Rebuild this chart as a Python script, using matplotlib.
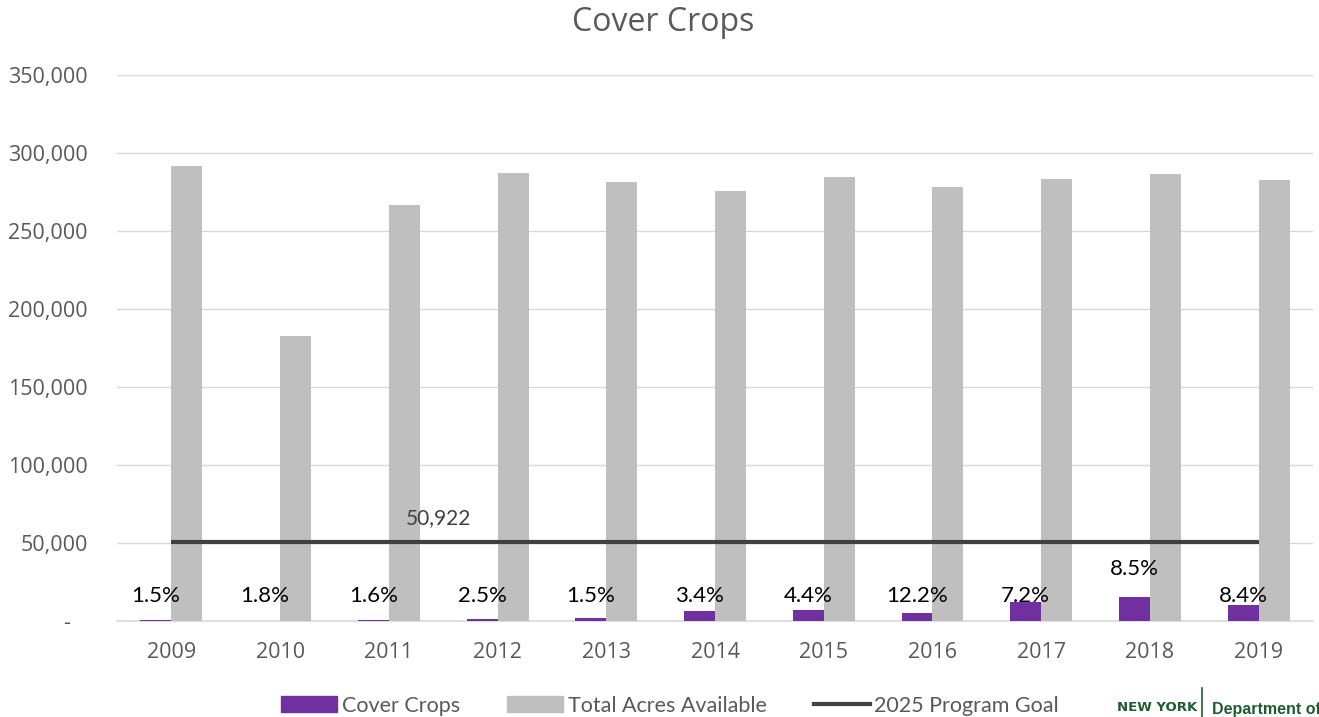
import matplotlib
matplotlib.use("Agg")
import matplotlib.pyplot as plt
import numpy as np
from matplotlib.ticker import FuncFormatter
from matplotlib.lines import Line2D
from matplotlib.patches import Patch

years = ["2009", "2010", "2011", "2012", "2013", "2014", "2015", "2016", "2017", "2018", "2019"]
cover_crops = [700, 200, 400, 1300, 1900, 6400, 7200, 5300, 12000, 15600, 10500]
total_acres = [291700, 182700, 266700, 287200, 281400, 275600, 284600, 278200, 283300, 286500, 282700]
pct_labels = ["1.5%", "1.8%", "1.6%", "2.5%", "1.5%", "3.4%", "4.4%", "12.2%", "7.2%", "8.5%", "8.4%"]
goal = 50922
goal_label = "50,922"

PURPLE = "#7030A0"
GRAY = "#BFBFBF"
LINE = "#404040"
TXT = "#595959"

fig = plt.figure(figsize=(13.19, 7.17), dpi=100)
ax = fig.add_axes([0.0887, 0.1339, 0.9068, 0.7615])

x = np.arange(len(years))
w = 0.285
ax.bar(x - w / 2, cover_crops, width=w, color=PURPLE, zorder=3)
ax.bar(x + w / 2, total_acres, width=w, color=GRAY, zorder=3)
ax.plot(x, [goal] * len(x), color=LINE, lw=3, zorder=4, solid_capstyle="butt")

ax.text(2.46, goal + 15000, goal_label, ha="center", va="center", fontsize=15,
        color="#404040", family="Lato")

for i, (lab, v) in enumerate(zip(pct_labels, cover_crops)):
    ylab = 16000 if v < 14000 else v + 18000
    ax.text(i - w / 2, ylab, lab, ha="center", va="center", fontsize=16,
            color="black", family="Lato", zorder=5)

ax.set_xlim(-0.5, len(years) - 0.5)
ax.set_ylim(0, 350000)
ax.set_yticks(np.arange(0, 350001, 50000))
ax.yaxis.set_major_formatter(FuncFormatter(lambda v, p: "-   " if v == 0 else f"{int(v):,}"))
ax.set_xticks(x)
ax.set_xticklabels(years)
ax.tick_params(axis="y", length=0, pad=21, labelsize=15.5, labelcolor=TXT)
ax.tick_params(axis="x", length=0, pad=15, labelsize=15.5, labelcolor=TXT)
for lab in ax.get_xticklabels() + ax.get_yticklabels():
    lab.set_family("Open Sans")
ax.grid(axis="y", color="#D9D9D9", lw=1, zorder=0)
ax.set_axisbelow(True)
for s in ["top", "right", "left"]:
    ax.spines[s].set_visible(False)
ax.spines["bottom"].set_color("#D9D9D9")
ax.spines["bottom"].set_linewidth(1.2)

fig.text(0.503, 0.969, "Cover Crops", ha="center", va="center", fontsize=23,
         color=TXT, family="Open Sans")

handles = [Patch(color=PURPLE), Patch(color=GRAY), Line2D([0], [0], color=LINE, lw=3)]
leg = fig.legend(handles, ["Cover Crops", "Total Acres Available", "2025 Program Goal"],
                 loc="center", bbox_to_anchor=(0.508, 0.016), ncol=3, frameon=False,
                 prop={"family": "Lato", "size": 15.5}, handlelength=2.6, handleheight=0.8,
                 handletextpad=0.2, columnspacing=2.2)
for t in leg.get_texts():
    t.set_color(TXT)

# logo text (cut off at right edge, as in the original)
fig.text(0.847, 0.013, "NEW YORK", ha="left", va="center", fontsize=9.5, fontweight="bold",
         color="#1F5C2E", family="Liberation Sans Narrow")
fig.add_artist(Line2D([0.9113, 0.9113], [0.0, 0.04], color="#1F5C2E", lw=1.2))
fig.text(0.919, 0.011, "Department of", ha="left", va="center", fontsize=11.5, fontweight="bold",
         color="#1F5C2E", family="Liberation Sans")

fig.savefig("out.png", dpi=100)
